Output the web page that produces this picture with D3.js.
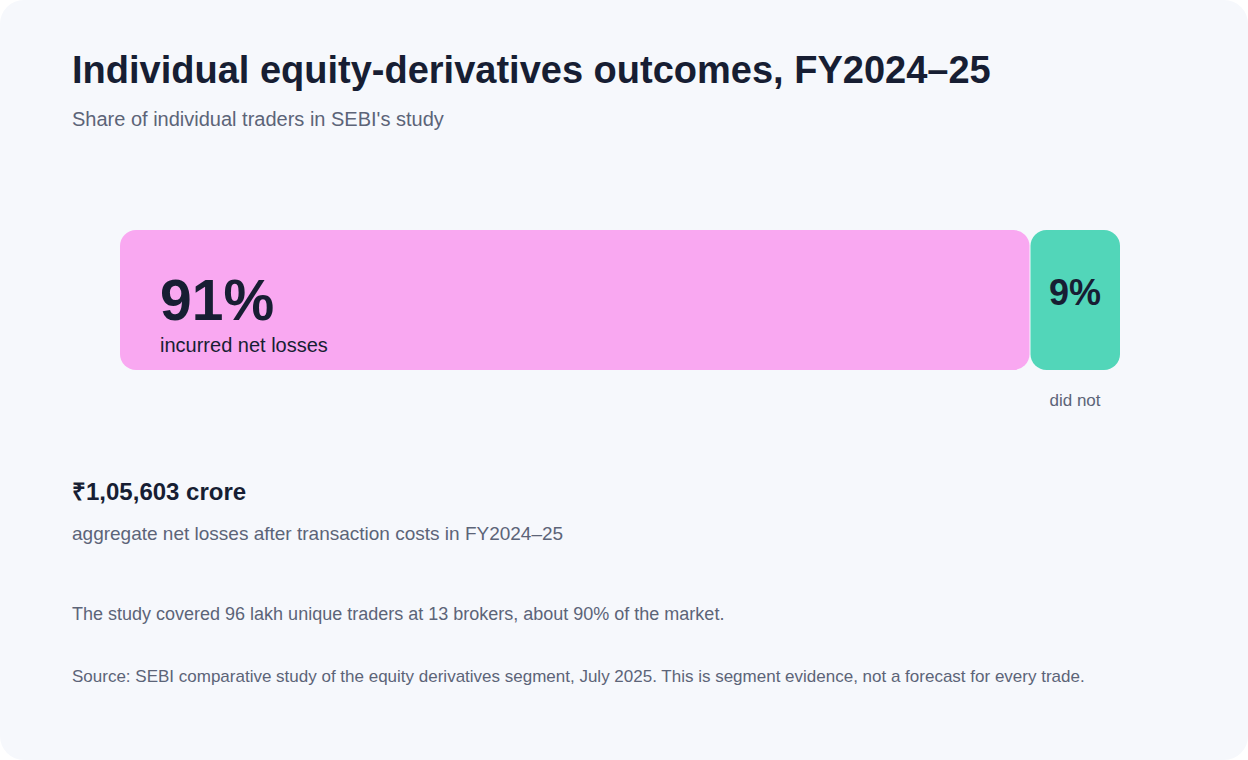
<!DOCTYPE html>
<html>
<head>
<meta charset="utf-8">
<script src="https://cdn.jsdelivr.net/npm/d3@7/dist/d3.min.js"></script>
<style>
  html, body { margin: 0; padding: 0; background: #ffffff; }
  svg { display: block; font-family: "Liberation Sans", Arial, Helvetica, sans-serif; }
</style>
</head>
<body>
<svg id="chart" width="1248" height="760"></svg>
<script>
const categories = ["incurred net losses", "did not"];
const shares = [91, 9];
const shareLabels = ["91%", "9%"];
const segmentColors = ["#f9a8f1", "#52d6b9"];
const title = "Individual equity-derivatives outcomes, FY2024–25";
const subtitle = "Share of individual traders in SEBI's study";
const statValue = "₹1,05,603 crore";
const statLabel = "aggregate net losses after transaction costs in FY2024–25";
const note = "The study covered 96 lakh unique traders at 13 brokers, about 90% of the market.";
const source = "Source: SEBI comparative study of the equity derivatives segment, July 2025. This is segment evidence, not a forecast for every trade.";

const W = 1248, H = 760;
const svg = d3.select("#chart");
const dark = "#171e33", gray = "#5c6478";

svg.append("rect").attr("x", 0).attr("y", 0).attr("width", W).attr("height", H)
  .attr("rx", 24).attr("fill", "#f6f8fc");

svg.append("text").attr("x", 72).attr("y", 83).attr("fill", dark)
  .attr("font-size", 38).attr("font-weight", 700).text(title);
svg.append("text").attr("x", 72).attr("y", 126).attr("fill", gray)
  .attr("font-size", 20).text(subtitle);

const x = d3.scaleLinear().domain([0, 100]).range([120, 1120]);
const barY = 230, barH = 140;
let acc = 0;
const segs = shares.map((v, i) => { const s = { v, i, x0: acc, x1: acc + v }; acc += v; return s; });

svg.selectAll("rect.seg").data(segs).join("rect").attr("class", "seg")
  .attr("x", d => x(d.x0) + (d.i > 0 ? 0.5 : 0))
  .attr("y", barY)
  .attr("width", d => x(d.x1) - x(d.x0) - 0.5)
  .attr("height", barH)
  .attr("rx", 16)
  .attr("fill", d => segmentColors[d.i]);

const big = segs[0];
svg.append("text").attr("x", x(big.x0) + 40).attr("y", 320).attr("fill", dark)
  .attr("font-size", 57).attr("font-weight", 700).text(shareLabels[0]);
svg.append("text").attr("x", x(big.x0) + 40).attr("y", 352).attr("fill", dark)
  .attr("font-size", 20).text(categories[0]);

const small = segs[1];
const cx = (x(small.x0) + x(small.x1)) / 2;
svg.append("text").attr("x", cx).attr("y", 305).attr("text-anchor", "middle").attr("fill", dark)
  .attr("font-size", 36).attr("font-weight", 700).text(shareLabels[1]);
svg.append("text").attr("x", cx).attr("y", 406).attr("text-anchor", "middle").attr("fill", gray)
  .attr("font-size", 17).text(categories[1]);

svg.append("text").attr("x", 72).attr("y", 500).attr("fill", dark)
  .attr("font-size", 24).attr("font-weight", 700).text(statValue);
svg.append("text").attr("x", 72).attr("y", 540).attr("fill", gray)
  .attr("font-size", 19).text(statLabel);
svg.append("text").attr("x", 72).attr("y", 620).attr("fill", gray)
  .attr("font-size", 18).text(note);
svg.append("text").attr("x", 72).attr("y", 682).attr("fill", gray)
  .attr("font-size", 17).text(source);
</script>
</body>
</html>
